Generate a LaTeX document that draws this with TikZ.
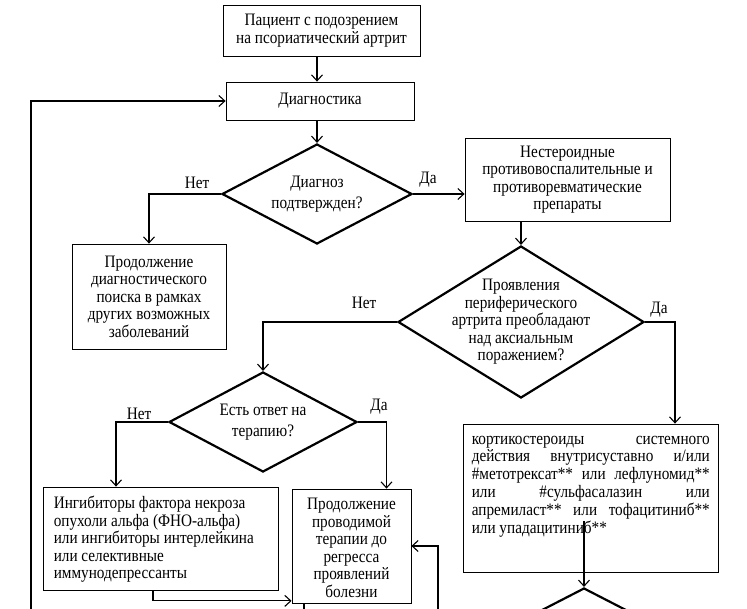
\documentclass[tikz,border=0pt]{standalone}
\usepackage{fontspec}
\setmainfont{Liberation Serif}[FakeStretch=0.87]
\usetikzlibrary{arrows.meta,shapes.geometric,calc}
\begin{document}
\begin{tikzpicture}[x=1pt,y=-1pt,
  box/.style={draw, line width=0.8pt, inner sep=0pt},
  dia/.style={diamond, draw, line width=2.2pt, inner sep=0pt, aspect=1},
  arr/.style={line width=1.1pt, -{Straight Barb[length=6pt,width=11pt,line width=1.1pt]}},
  ln/.style={line width=1.1pt},
  txt/.style={align=center, inner sep=0pt, font=\fontsize{17.5}{17.5}\selectfont},
  dtxt/.style={align=center, inner sep=0pt, font=\fontsize{17.5}{21}\selectfont},
  jtxt/.style={align=left, inner sep=0pt, font=\fontsize{17.5}{17.8}\selectfont},
  lbl/.style={inner sep=0pt, font=\fontsize{17.5}{17.5}\selectfont}]
\clip (0,0) rectangle (747,609);
\fill[white] (0,0) rectangle (747,609);
% boxes
\node[box, minimum width=197pt, minimum height=51pt] (b1) at (321.5,30.5) {};
\node[txt] at (b1) {Пациент с подозрением\\на псориатический артрит};
\node[box, minimum width=188pt, minimum height=38pt] (diag) at (320,101) {};
\node[txt] at (diag) {Диагностика};
\node[dia, minimum width=190pt, minimum height=100pt] (d1) at (317,194) {};
\node[dtxt] at (d1) {Диагноз\\подтвержден?};
\node[box, minimum width=154pt, minimum height=105pt] (b2) at (149,296.5) {};
\node[txt] at (b2) {Продолжение\\диагностического\\поиска в рамках\\других возможных\\заболеваний};
\node[box, minimum width=205pt, minimum height=83pt] (b3) at (567.5,179.5) {};
\node[txt] at (b3) {Нестероидные\\противовоспалительные и\\противоревматические\\препараты};
\node[dia, minimum width=246pt, minimum height=152pt] (d2) at (521,322) {};
\node[txt] at (d2) {Проявления\\периферического\\артрита преобладают\\над аксиальным\\поражением?};
\node[dia, minimum width=188pt, minimum height=100pt] (d3) at (263,422) {};
\node[dtxt] at (d3) {Есть ответ на\\терапию?};
\node[box, minimum width=235pt, minimum height=103pt] (b4) at (160.5,538.5) {};
\node[txt, align=left, anchor=west] at ([xshift=11pt,yshift=-1pt]b4.west) {Ингибиторы фактора некроза\\опухоли альфа (ФНО-альфа)\\или ингибиторы интерлейкина\\или селективные\\иммунодепрессанты};
\node[box, minimum width=119pt, minimum height=114pt] (b6) at (351.5,546) {};
\node[txt] at ([yshift=-2pt]b6.center) {Продолжение\\проводимой\\терапии до\\регресса\\проявлений\\болезни};
\node[box, minimum width=255pt, minimum height=148pt] (b5) at (590.5,498) {};
\node[jtxt, anchor=north west] at ([xshift=9pt,yshift=-12pt]b5.north west) {%
\makebox[238pt][s]{кортикостероиды системного}\\
\makebox[238pt][s]{действия внутрисуставно и/или}\\
\makebox[238pt][s]{\#метотрексат** или лефлуномид**}\\
\makebox[238pt][s]{или \#сульфасалазин или}\\
\makebox[238pt][s]{апремиласт** или тофацитиниб**}\\
или упадацитиниб**};
\node[dia, minimum width=240pt, minimum height=124pt] (d4) at (584,650) {};
% free ends
\coordinate (lb) at (31,609);
\coordinate (rb) at (438,609);
\coordinate (b6tail) at (304,609);
\coordinate (b5in) at (584,521);
% connectors
\draw[arr] (b1.south -| d1.north) -- (diag.north -| d1.north);
\draw[arr] (diag.south -| d1.north) -- (d1.north);
\draw[arr] (lb) |- (diag.west);
\draw[arr] (d1.west) -| (b2.north);
\draw[arr] (d1.east) -- (d1.east -| b3.west);
\draw[arr] (b3.south -| d2.north) -- (d2.north);
\draw[arr] (d2.west) -| (d3.north);
\draw[arr] (d2.east) -| ([xshift=84.5pt]b5.north);
\draw[arr] (d3.west) -| ([xshift=-44.5pt]b4.north);
\draw[arr] (d3.east) -| ([xshift=35pt]b6.north);
\draw[arr] ([xshift=-7.5pt]b4.south) |- ([yshift=2.5pt]b6.south west);
\draw[arr] (rb) |- (b6.east);
\draw[ln] (b6.south -| b6tail) -- (b6tail);
\draw[arr] (b5in) -- (d4.north);
% labels
\node[lbl] at (197,183) {Нет};
\node[lbl] at (428,180) {Да};
\node[lbl] at (364,303) {Нет};
\node[lbl] at (659,310) {Да};
\node[lbl] at (139,414) {Нет};
\node[lbl] at (379,407) {Да};
\end{tikzpicture}
\end{document}
